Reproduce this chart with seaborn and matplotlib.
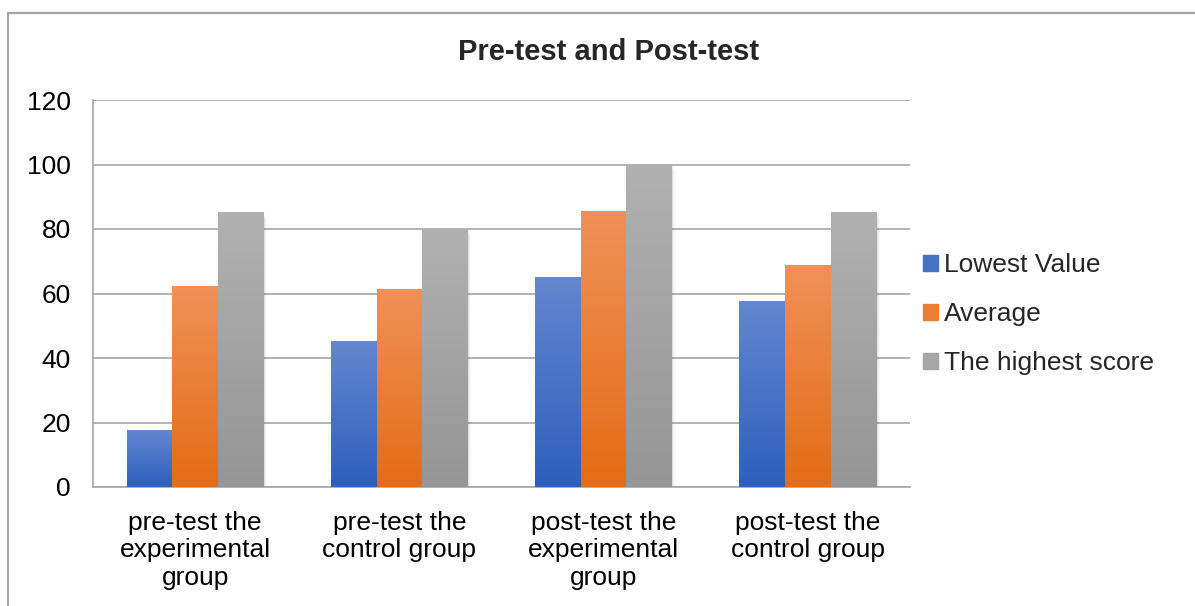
import numpy as np
import pandas as pd
import matplotlib
matplotlib.use('Agg')
import matplotlib.pyplot as plt
import seaborn as sns
from matplotlib.colors import LinearSegmentedColormap
from matplotlib.patches import Rectangle
from matplotlib.lines import Line2D

groups = ["pre-test the\nexperimental\ngroup", "pre-test the\ncontrol group",
          "post-test the\nexperimental\ngroup", "post-test the\ncontrol group"]
series = ["Lowest Value", "Average", "The highest score"]
lowest = [17.5, 45, 65, 57.5]
average = [62.3, 61.3, 85.3, 68.8]
highest = [85, 80, 100, 85]

# gradient colours (top, bottom) per series
grad = {
    "Lowest Value": ("#6387d0", "#2e5fbd"),
    "Average": ("#f09159", "#e46c14"),
    "The highest score": ("#b1b1b1", "#959595"),
}
solid = {"Lowest Value": "#4472c4", "Average": "#ed7d31", "The highest score": "#a5a5a5"}

df = pd.DataFrame({
    "group": groups * 3,
    "series": [s for s in series for _ in groups],
    "value": lowest + average + highest,
})

sns.set_style("white")
plt.rcParams['font.family'] = ['Liberation Sans', 'DejaVu Sans']

fig = plt.figure(figsize=(11.95, 6.06), dpi=100)
ax = fig.add_axes([93 / 1195, 119 / 606, (910 - 93) / 1195, (487 - 100) / 606])

sns.barplot(data=df, x="group", y="value", hue="series", hue_order=series,
            palette=solid, width=0.67, ax=ax, legend=False, zorder=3)

ax.set_ylim(0, 120)
ax.set_xlim(-0.5, 3.5)
ax.set_yticks(range(0, 121, 20))

# replace flat fills with vertical gradients
n = len(groups)
for i, patch in enumerate(ax.patches):
    s = series[i // n]
    x, w, h = patch.get_x(), patch.get_width(), patch.get_height()
    cmap = LinearSegmentedColormap.from_list(s, [grad[s][1], grad[s][0]])
    img = np.linspace(0, 1, 256).reshape(-1, 1)
    ax.imshow(img, extent=[x, x + w, 0, h], origin='lower', aspect='auto',
              cmap=cmap, zorder=3)
    # soft shadow
    for k, a in enumerate([0.06, 0.04, 0.02]):
        d = 0.006 * (k + 1)
        ax.add_patch(Rectangle((x + d, -0.6 * (k + 1)), w, h, color='black',
                               alpha=a, lw=0, zorder=2))
    patch.set_visible(False)

ax.set_xlim(-0.5, 3.5)
ax.set_ylim(0, 120)
ax.set_aspect('auto')

ax.grid(axis='y', color='#a6a6a6', lw=1.2, zorder=0)
ax.set_axisbelow(True)
for side in ['top', 'right']:
    ax.spines[side].set_visible(False)
for side in ['left', 'bottom']:
    ax.spines[side].set_color('#a6a6a6')
    ax.spines[side].set_linewidth(1.2)
ax.tick_params(axis='both', length=0, labelsize=19, colors='black')
ax.tick_params(axis='y', pad=16)
ax.tick_params(axis='x', pad=17)
ax.set_xlabel("")
ax.set_ylabel("")
for lbl in ax.get_xticklabels():
    lbl.set_linespacing(1.2)

handles = [Rectangle((0, 0), 1, 1, color=solid[s]) for s in series]
fig.legend(handles, series, loc='center left', bbox_to_anchor=(923 / 1195, 1 - 314 / 606),
           frameon=False, fontsize=19, handlelength=0.55, handleheight=0.55,
           handletextpad=0.25, labelspacing=0.95, borderaxespad=0, borderpad=0)

fig.text(609 / 1195, 1 - 52 / 606, "Pre-test and Post-test", ha='center', va='center',
         fontsize=21, fontweight='bold')

# chart frame (only left and top edges fall inside the image)
fig.add_artist(Line2D([8 / 1195, 8 / 1195], [0, 1 - 13 / 606], transform=fig.transFigure,
                      color='#a6a6a6', lw=1.6))
fig.add_artist(Line2D([8 / 1195, 1], [1 - 13 / 606, 1 - 13 / 606], transform=fig.transFigure,
                      color='#a6a6a6', lw=1.6))

fig.savefig("out.png", dpi=100)
